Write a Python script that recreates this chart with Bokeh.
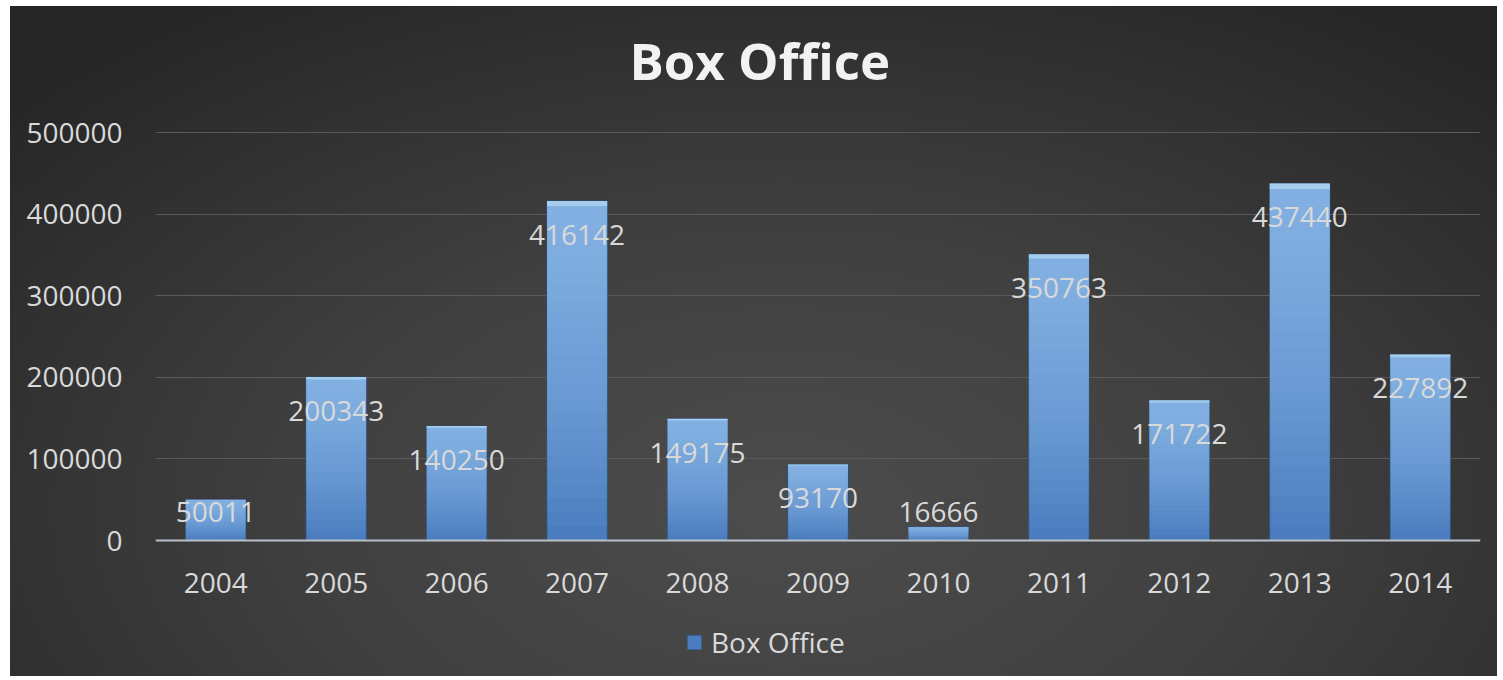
from bokeh.plotting import figure
from bokeh.models import ColumnDataSource, Legend, LegendItem, FactorRange, NumeralTickFormatter, FixedTicker
from bokeh.core.properties import value
from bokeh.embed import file_html
from bokeh.resources import INLINE

years = ["2004", "2005", "2006", "2007", "2008", "2009", "2010", "2011", "2012", "2013", "2014"]
box_office = [50011, 200343, 140250, 416142, 149175, 93170, 16666, 350763, 171722, 437440, 227892]
y_ticks = [0, 100000, 200000, 300000, 400000, 500000]

FONT = "Open Sans"
TXT = "#d9d9d9"

# value axis: 408px for 0..500000; range padded 36px above and 136px below (legend room)
Y_MAX = 500000
Y_TOP = Y_MAX + Y_MAX * 36 / 408
Y_MIN = -Y_MAX * 136 / 408

p = figure(frame_width=1325, frame_height=580, x_range=FactorRange(*years, range_padding=0),
           y_range=(Y_MIN, Y_TOP), output_backend="svg", toolbar_location=None,
           title="Box Office")
p.margin = (6, 0, 0, 10)
p.styles = {"background": "radial-gradient(ellipse 70% 90% at 52% 75%, #4c4c4c 0%, #404040 45%, #262626 100%)"}
p.border_fill_color = None
p.background_fill_color = None
p.outline_line_color = None
p.min_border_left = 145
p.min_border_right = 17
p.min_border_top = 90
p.min_border_bottom = 0

p.title.align = "left"
p.title.offset = 474
p.title.text_font = FONT
p.title.text_font_style = "bold"
p.title.text_font_size = "51px"
p.title.text_color = "#f2f2f2"
p.title.standoff = 4

src = ColumnDataSource(dict(x=years, top=box_office))
base = p.vbar(x="x", top="top", width=0.5, source=src, fill_color="#4a7cbf",
              line_color="#2a5a8c", line_alpha=0.7, line_width=1)
N = 24
for i in range(1, N):
    frac = i / N
    p.vbar(x=years, bottom=[v * frac for v in box_office], top=box_office, width=0.5,
           fill_color="#a8dcf6", fill_alpha=0.048, line_color=None)
p.vbar(x=years, bottom=[v * 0.985 for v in box_office], top=box_office, width=0.5,
       fill_color="#c8ecfa", fill_alpha=0.5, line_color=None)

label_y = [max(v - 41500, 35000) for v in box_office]
p.text(x=years, y=label_y, text=[str(v) for v in box_office], text_align="center",
       text_baseline="middle", text_font=value(FONT), text_font_size="28px", text_color=TXT)

p.yaxis.ticker = FixedTicker(ticks=y_ticks)
p.yaxis.formatter = NumeralTickFormatter(format="0")
p.yaxis.axis_line_color = None
p.yaxis.major_tick_line_color = None
p.yaxis.minor_tick_line_color = None
p.yaxis.major_label_standoff = 27
for ax in (p.xaxis, p.yaxis):
    ax.major_label_text_font = FONT
    ax.major_label_text_font_size = "28px"
    ax.major_label_text_color = TXT
p.xaxis.fixed_location = 0
p.xaxis.axis_line_color = "#b8bfc7"
p.xaxis.axis_line_width = 2
p.xaxis.major_tick_line_color = None
p.xaxis.minor_tick_line_color = None
p.xaxis.major_label_standoff = 26

p.xgrid.grid_line_color = None
p.ygrid.grid_line_color = "#5a5a5a"
p.ygrid.grid_line_width = 1

legend = Legend(items=[LegendItem(label="Box Office", renderers=[base])], location=(530, 15),
                orientation="horizontal")
legend.background_fill_alpha = 0
legend.border_line_color = None
legend.label_text_font = FONT
legend.label_text_font_size = "28px"
legend.label_text_color = TXT
legend.glyph_width = 18
legend.glyph_height = 18
legend.label_standoff = 8
legend.margin = 0
legend.padding = 6
p.add_layout(legend)

open("out.html", "w").write(file_html(p, INLINE))
